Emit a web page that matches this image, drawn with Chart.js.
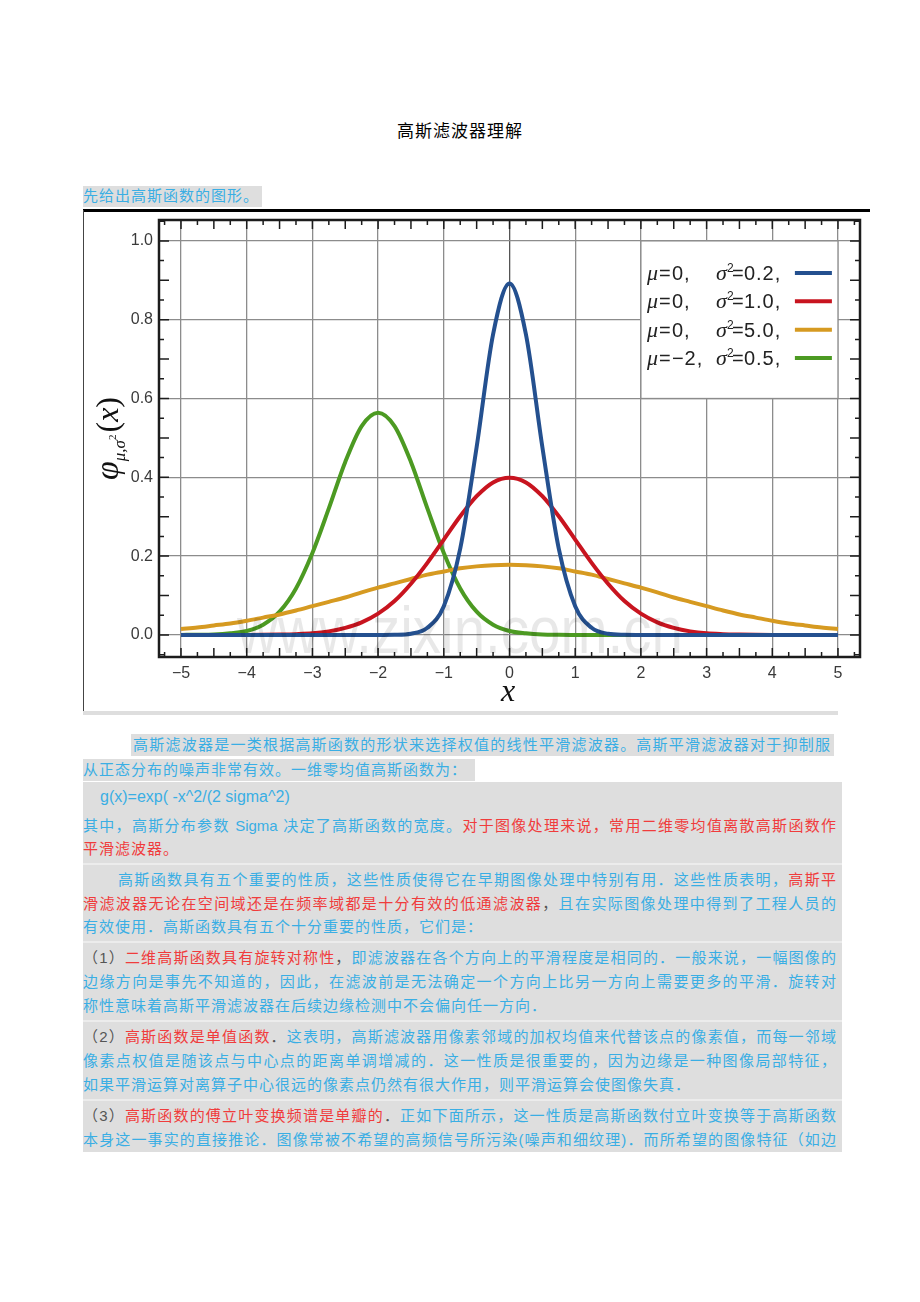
<!DOCTYPE html>
<html lang="zh">
<head>
<meta charset="UTF-8">
<title>高斯滤波器理解</title>
<style>
  body { margin: 0; background: #fff; font-family: "Liberation Sans", "Noto Sans CJK SC", sans-serif; }
  .page { position: relative; width: 920px; height: 1302px; overflow: hidden; }
  .ln { position: absolute; font-size: 15px; line-height: 22px; letter-spacing: 1px; color: #3aaee4; white-space: nowrap; }
  .j { text-align: justify; text-align-last: justify; white-space: normal; letter-spacing: 0; }
  .r { color: #f03c3c; }
  .k { color: #555; }
  .hl { position: absolute; background: #dedede; }
  .sep { position: absolute; left: 83px; width: 759px; height: 2px; background: #ececec; }
  #chartBox { position: absolute; left: 83px; top: 210px; width: 787px; height: 502px; background: #fff; }
</style>
</head>
<body>
<div class="page">
  <div class="ln" style="left:0;width:920px;top:121px;text-align:center;color:#000;font-size:17px;letter-spacing:1px;">高斯滤波器理解</div>

  <div class="hl" style="left:83px;top:186px;width:179px;height:21px;"></div>
  <div class="ln" style="left:83px;top:185px;">先给出高斯函数的图形。</div>

  <div id="chartBox"><canvas id="gaussChart" width="787" height="502"></canvas></div>
  <div style="position:absolute;left:83px;top:209px;width:787px;height:3px;background:#000;"></div>
  <div style="position:absolute;left:83px;top:210px;width:1px;height:502px;background:#444;"></div>
  <div class="hl" style="left:83px;top:711px;width:755px;height:4px;"></div>

  <div class="hl" style="left:131px;top:734px;width:703px;height:22px;"></div>
  <div class="ln j" style="left:133px;top:734px;width:697px;">高斯滤波器是一类根据高斯函数的形状来选择权值的线性平滑滤波器。高斯平滑滤波器对于抑制服</div>
  <div class="hl" style="left:83px;top:759px;width:392px;height:22px;"></div>
  <div class="ln" style="left:83px;top:759px;">从正态分布的噪声非常有效。一维零均值高斯函数为：</div>

  <div class="hl" style="left:83px;top:782px;width:759px;height:370px;"></div>
  <div class="sep" style="top:863px;"></div>
  <div class="sep" style="top:941px;"></div>
  <div class="sep" style="top:1020px;"></div>
  <div class="sep" style="top:1099px;"></div>

  <div class="ln" style="left:100px;top:786px;font-size:16px;letter-spacing:0;">g(x)=exp( -x^2/(2 sigma^2)</div>
  <div class="ln j" style="left:83px;top:815px;width:753px;">其中，高斯分布参数 Sigma 决定了高斯函数的宽度。<span class="r">对于图像处理来说，常用二维零均值离散高斯函数作</span></div>
  <div class="ln r" style="left:83px;top:838px;">平滑滤波器。</div>

  <div class="ln j" style="left:118px;top:869px;width:718px;">高斯函数具有五个重要的性质，这些性质使得它在早期图像处理中特别有用．这些性质表明，<span class="r">高斯平</span></div>
  <div class="ln j" style="left:83px;top:893px;width:753px;"><span class="r">滑滤波器无论在空间域还是在频率域都是十分有效的低通滤波器</span><span class="k">，</span>且在实际图像处理中得到了工程人员的</div>
  <div class="ln" style="left:83px;top:916px;">有效使用．高斯函数具有五个十分重要的性质，它们是：</div>

  <div class="ln j" style="left:83px;top:947px;width:753px;"><span class="k">（1）</span><span class="r">二维高斯函数具有旋转对称性</span><span class="k">，</span>即滤波器在各个方向上的平滑程度是相同的．一般来说，一幅图像的</div>
  <div class="ln j" style="left:83px;top:971px;width:753px;">边缘方向是事先不知道的，因此，在滤波前是无法确定一个方向上比另一方向上需要更多的平滑．旋转对</div>
  <div class="ln" style="left:83px;top:995px;">称性意味着高斯平滑滤波器在后续边缘检测中不会偏向任一方向．</div>

  <div class="ln j" style="left:83px;top:1026px;width:753px;"><span class="k">（2）</span><span class="r">高斯函数是单值函数</span><span class="k">．</span>这表明，高斯滤波器用像素邻域的加权均值来代替该点的像素值，而每一邻域</div>
  <div class="ln j" style="left:83px;top:1050px;width:753px;">像素点权值是随该点与中心点的距离单调增减的．这一性质是很重要的，因为边缘是一种图像局部特征，</div>
  <div class="ln" style="left:83px;top:1074px;">如果平滑运算对离算子中心很远的像素点仍然有很大作用，则平滑运算会使图像失真．</div>

  <div class="ln j" style="left:83px;top:1105px;width:753px;"><span class="k">（3）</span><span class="r">高斯函数的傅立叶变换频谱是单瓣的</span><span class="k">．</span>正如下面所示，这一性质是高斯函数付立叶变换等于高斯函数</div>
  <div class="ln j" style="left:83px;top:1129px;width:753px;">本身这一事实的直接推论．图像常被不希望的高频信号所污染(噪声和细纹理)．而所希望的图像特征（如边</div>
</div>

<script src="https://cdn.jsdelivr.net/npm/chart.js"></script>
<script>
// x positions where the curves were read (step 0.25)
const xValues = [-5, -4.75, -4.5, -4.25, -4, -3.75, -3.5, -3.25, -3, -2.75, -2.5, -2.25, -2, -1.75, -1.5, -1.25, -1, -0.75, -0.5, -0.25,
  0, 0.25, 0.5, 0.75, 1, 1.25, 1.5, 1.75, 2, 2.25, 2.5, 2.75, 3, 3.25, 3.5, 3.75, 4, 4.25, 4.5, 4.75, 5];

// mu = 0, sigma^2 = 0.2
const blueValues = [0, 0, 0, 0, 0, 0, 0, 0, 0, 0, 0, 0, 0, 0.0004, 0.003, 0.018, 0.073, 0.219, 0.477, 0.763,
  0.892, 0.763, 0.477, 0.219, 0.073, 0.018, 0.003, 0.0004, 0, 0, 0, 0, 0, 0, 0, 0, 0, 0, 0, 0, 0];
// mu = 0, sigma^2 = 1.0
const redValues = [0, 0, 0, 0, 0.0001, 0.0004, 0.001, 0.002, 0.004, 0.009, 0.018, 0.032, 0.054, 0.086, 0.130, 0.183, 0.242, 0.301, 0.352, 0.387,
  0.399, 0.387, 0.352, 0.301, 0.242, 0.183, 0.130, 0.086, 0.054, 0.032, 0.018, 0.009, 0.004, 0.002, 0.001, 0.0004, 0.0001, 0, 0, 0, 0];
// mu = 0, sigma^2 = 5.0
const orangeValues = [0.015, 0.019, 0.024, 0.029, 0.036, 0.044, 0.052, 0.062, 0.073, 0.084, 0.095, 0.108, 0.120, 0.131, 0.142, 0.153, 0.161, 0.169, 0.174, 0.177,
  0.178, 0.177, 0.174, 0.169, 0.161, 0.153, 0.142, 0.131, 0.120, 0.108, 0.095, 0.084, 0.073, 0.062, 0.052, 0.044, 0.036, 0.029, 0.024, 0.019, 0.015];
// mu = -2, sigma^2 = 0.5
const greenValues = [0.0001, 0.0003, 0.001, 0.004, 0.010, 0.026, 0.059, 0.118, 0.208, 0.321, 0.439, 0.530, 0.564, 0.530, 0.439, 0.321, 0.208, 0.118, 0.059, 0.026,
  0.010, 0.004, 0.001, 0.0003, 0.0001, 0, 0, 0, 0, 0, 0, 0, 0, 0, 0, 0, 0, 0, 0, 0, 0];

const muLabels = ['0,', '0,', '0,', '\u22122,'];
const varLabels = ['0.2,', '1.0,', '5.0,', '0.5,'];
const lineColors = ['#24508f', '#c8141f', '#d69a21', '#4c9a22'];

const xTickValues = [-5, -4, -3, -2, -1, 0, 1, 2, 3, 4, 5];
const yTickValues = [0, 0.2, 0.4, 0.6, 0.8, 1.0];

const seriesValues = [blueValues, redValues, orangeValues, greenValues];

const decor = {
    id: 'decor',
    afterDatasetsDraw(chart) {
        const { ctx, chartArea: a, scales: { x, y } } = chart;
        ctx.save();

        // legend panel over the grid
        const bx = x.getPixelForValue(2), bx2 = x.getPixelForValue(5);
        const by = y.getPixelForValue(1.0), by2 = y.getPixelForValue(0.6);
        ctx.fillStyle = '#fff';
        ctx.fillRect(bx, by, bx2 - bx, by2 - by);
        ctx.strokeStyle = '#8c8c8c';
        ctx.lineWidth = 1.3;
        ctx.strokeRect(bx, by, bx2 - bx, by2 - by);

        ctx.fillStyle = '#222';
        for (let i = 0; i < 4; i++) {
            const base = by + 39 + i * 28.4;
            ctx.letterSpacing = '0px';
            ctx.font = 'italic 22px "Liberation Serif"';
            ctx.fillText('\u03bc', bx + 6, base);
            ctx.fillText('\u03c3', bx + 75, base);
            ctx.font = '20px "Liberation Sans"';
            ctx.fillText('=', bx + 18, base);
            ctx.fillText('=', bx + 91, base);
            ctx.font = '12px "Liberation Sans"';
            ctx.fillText('2', bx + 86, base - 8);
            ctx.font = '20px "Liberation Sans"';
            ctx.letterSpacing = '1px';
            ctx.fillText(muLabels[i], bx + 31, base);
            ctx.fillText(varLabels[i], bx + 103, base);
            ctx.letterSpacing = '0px';
            ctx.strokeStyle = lineColors[i];
            ctx.lineWidth = 4;
            ctx.beginPath();
            ctx.moveTo(bx + 154, base - 7);
            ctx.lineTo(bx + 191, base - 7);
            ctx.stroke();
        }

        // inward tick marks on all four sides
        ctx.strokeStyle = '#1c1c1c';
        ctx.lineWidth = 1.5;
        ctx.beginPath();
        for (let k = -21; k <= 21; k++) {
            const v = k * 0.25;
            const px = x.getPixelForValue(v);
            if (px <= a.left || px >= a.right) continue;
            const len = (k % 2 === 0) ? 9 : 5;
            ctx.moveTo(px, a.bottom); ctx.lineTo(px, a.bottom - len);
            ctx.moveTo(px, a.top); ctx.lineTo(px, a.top + len);
        }
        for (let k = -1; k <= 21; k++) {
            const v = k * 0.05;
            const py = y.getPixelForValue(v);
            if (py <= a.top || py >= a.bottom) continue;
            const len = (k % 2 === 0) ? 10 : 5;
            ctx.moveTo(a.left, py); ctx.lineTo(a.left + len, py);
            ctx.moveTo(a.right, py); ctx.lineTo(a.right - len, py);
        }
        ctx.stroke();

        // frame
        ctx.lineWidth = 2.5;
        ctx.strokeRect(a.left, a.top, a.right - a.left, a.bottom - a.top);
        ctx.restore();
    },
    afterDraw(chart) {
        const { ctx } = chart;
        ctx.save();

        // y axis title: phi_{mu,sigma^2}(x)
        ctx.translate(35, 270);
        ctx.rotate(-Math.PI / 2);
        ctx.fillStyle = '#111';
        let cx = 0;
        ctx.font = 'italic 34px "Liberation Serif"';
        ctx.fillText('\u03c6', cx, 0);
        cx += ctx.measureText('\u03c6').width;
        ctx.font = 'italic 17px "Liberation Serif"';
        ctx.fillText('\u03bc,\u03c3', cx, 7);
        cx += ctx.measureText('\u03bc,\u03c3').width;
        ctx.font = '11px "Liberation Serif"';
        ctx.fillText('2', cx, -2);
        cx += ctx.measureText('2').width + 2;
        ctx.font = '32px "Liberation Serif"';
        ctx.fillText('(', cx, 0);
        cx += ctx.measureText('(').width;
        ctx.font = 'italic 32px "Liberation Serif"';
        ctx.fillText('x', cx, 0);
        cx += ctx.measureText('x').width;
        ctx.font = '32px "Liberation Serif"';
        ctx.fillText(')', cx, 0);
        ctx.restore();

        // x axis title
        ctx.save();
        ctx.fillStyle = '#111';
        ctx.font = 'italic 32px "Liberation Serif"';
        ctx.textAlign = 'center';
        ctx.fillText('x', 425, 491);
        ctx.restore();

        // watermark
        ctx.save();
        ctx.font = '66px "Liberation Sans"';
        const wm = 'www.zixin.com.cn';
        const w = ctx.measureText(wm).width;
        ctx.translate(377, 443);
        ctx.scale(446 / w, 1);
        ctx.textAlign = 'center';
        ctx.fillStyle = 'rgba(0,0,0,0.09)';
        ctx.fillText(wm, 0, 0);
        ctx.restore();
    }
};

new Chart(document.getElementById('gaussChart'), {
    type: 'line',
    data: {
        datasets: seriesValues.map((vals, i) => ({
            data: xValues.map((xv, j) => ({ x: xv, y: vals[j] })),
            borderColor: lineColors[i],
            borderWidth: 4,
            pointRadius: 0,
            fill: false,
            cubicInterpolationMode: 'monotone'
        }))
    },
    options: {
        responsive: false,
        animation: false,
        layout: { padding: { left: 0, top: 10, right: 10, bottom: 0 } },
        plugins: { legend: { display: false }, tooltip: { enabled: false } },
        scales: {
            x: {
                type: 'linear',
                min: -5.335,
                max: 5.335,
                afterBuildTicks: s => { s.ticks = xTickValues.map(v => ({ value: v })); },
                afterFit: s => { s.height = 55; s.paddingLeft = 0; s.paddingRight = 0; },
                grid: {
                    color: c => (c.tick && c.tick.value === 0) ? '#555' : '#8c8c8c',
                    lineWidth: 1.3,
                    drawTicks: false
                },
                border: { display: false },
                ticks: {
                    autoSkip: false,
                    maxRotation: 0,
                    padding: 7,
                    color: '#3a3a3a',
                    font: { family: '"Liberation Sans"', size: 16 },
                    callback: v => v < 0 ? '\u2212' + Math.abs(v) : String(v)
                }
            },
            y: {
                type: 'linear',
                min: -0.056,
                max: 1.053,
                afterBuildTicks: s => { s.ticks = yTickValues.map(v => ({ value: v })); },
                afterFit: s => { s.width = 76; s.paddingTop = 0; s.paddingBottom = 0; },
                grid: { color: '#8c8c8c', lineWidth: 1.3, drawTicks: false },
                border: { display: false },
                ticks: {
                    padding: 6,
                    color: '#3a3a3a',
                    font: { family: '"Liberation Sans"', size: 16 },
                    callback: v => Number(v).toFixed(1)
                }
            }
        }
    },
    plugins: [decor]
});
</script>
</body>
</html>
